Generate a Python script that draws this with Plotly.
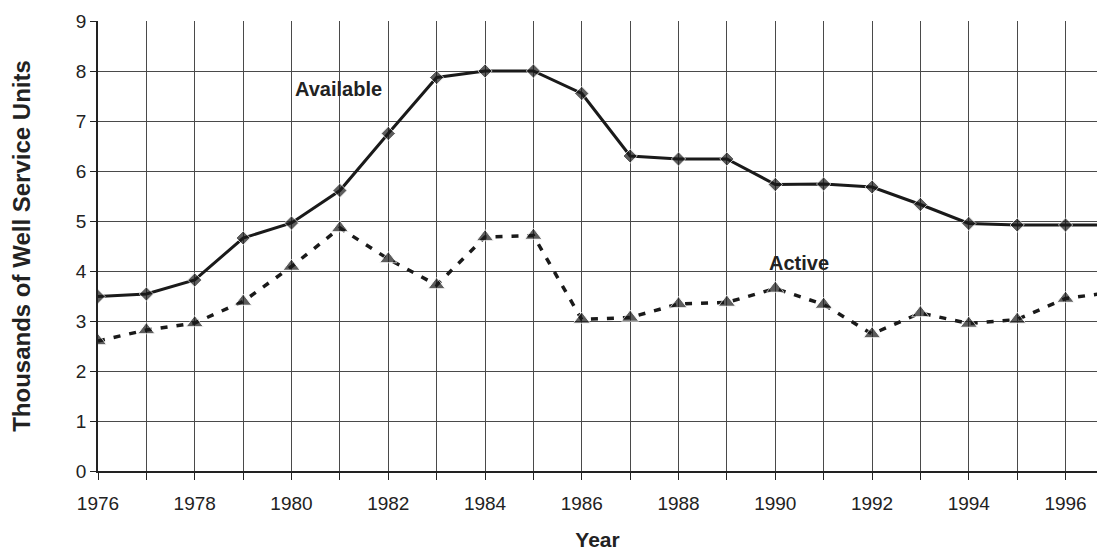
import plotly.graph_objects as go

FAMILY = "Liberation Sans, Arial, sans-serif"

years = list(range(1976, 1998))
available = [3.49, 3.54, 3.82, 4.66, 4.96, 5.61, 6.75, 7.87, 8.00, 8.00, 7.55,
             6.30, 6.24, 6.24, 5.73, 5.74, 5.68, 5.33, 4.95, 4.92, 4.92, 4.92]
active = [2.60, 2.82, 2.96, 3.39, 4.09, 4.86, 4.24, 3.72, 4.68, 4.71, 3.03,
          3.07, 3.34, 3.37, 3.65, 3.33, 2.74, 3.16, 2.95, 3.03, 3.45, 3.58]
x_ticks = list(range(1976, 1998, 2))

# the 1997 point only carries the line past the right edge, no marker
avail_sizes = [11] * (len(years) - 1) + [0]
active_sizes = [15] * (len(years) - 1) + [0]

fig = go.Figure()

fig.add_trace(go.Scatter(
    x=years, y=available, mode="lines+markers", name="Available",
    line=dict(color="#1a1a1a", width=3),
    marker=dict(symbol="diamond", size=avail_sizes, color="#1a1a1a"),
))

fig.add_trace(go.Scatter(
    x=years, y=active, mode="lines+markers", name="Active",
    line=dict(color="#1a1a1a", width=3.5, dash="7px,9px"),
    marker=dict(symbol="triangle-up", size=active_sizes, color="#1a1a1a"),
))

fig.add_annotation(x=1980.98, y=7.64, text="<b>Available</b>", showarrow=False,
                   font=dict(family=FAMILY, size=20, color="#222"))
fig.add_annotation(x=1990.5, y=4.16, text="<b>Active</b>", showarrow=False,
                   font=dict(family=FAMILY, size=20, color="#222"))

fig.update_layout(
    width=1108, height=559,
    margin=dict(l=98, r=11, t=12, b=87),
    paper_bgcolor="white", plot_bgcolor="white",
    showlegend=False,
    font=dict(family=FAMILY, size=19, color="#222"),
    xaxis=dict(
        range=[1976, 1996.65], tickmode="array", tickvals=x_ticks,
        ticktext=[str(v) for v in x_ticks],
        showgrid=True, gridcolor="#4a4a4a", gridwidth=1,
        minor=dict(dtick=1, tick0=1976, showgrid=True, gridcolor="#4a4a4a",
                   gridwidth=1, ticks="outside", ticklen=7, tickcolor="#222"),
        ticks="outside", ticklen=7, tickcolor="#222", ticklabelstandoff=7,
        showline=True, linecolor="#222", linewidth=1.5,
        zeroline=False,
        title=dict(text="<b>Year</b>", font=dict(size=21), standoff=20),
    ),
    yaxis=dict(
        range=[0, 9], dtick=1,
        showgrid=True, gridcolor="#4a4a4a", gridwidth=1,
        ticks="outside", ticklen=6, tickcolor="#222",
        showline=True, linecolor="#222", linewidth=1.5,
        zeroline=False,
        title=dict(text="<b>Thousands of Well Service Units</b>", font=dict(size=24), standoff=38),
    ),
)

fig.write_html("out.html", config={"displayModeBar": False},
               post_script="document.body.style.margin='0';")
